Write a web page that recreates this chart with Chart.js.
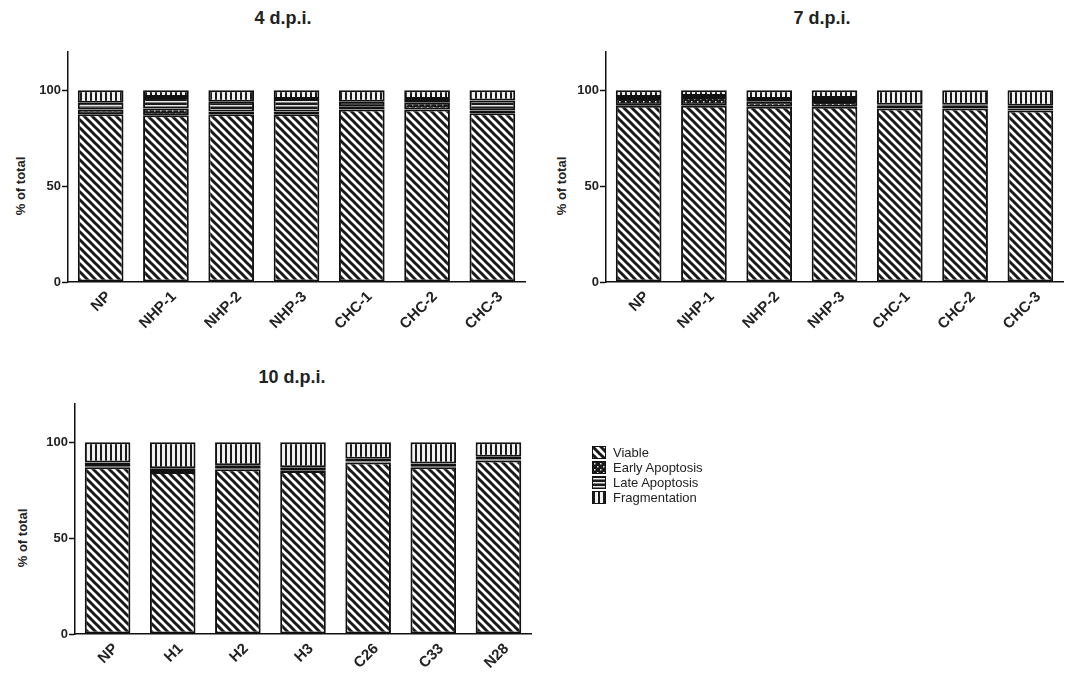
<!DOCTYPE html>
<html>
<head>
<meta charset="utf-8">
<script src="https://cdn.jsdelivr.net/npm/chart.js@4/dist/chart.umd.min.js"></script>
<style>
  body { margin: 0; background: #fff; font-family: "Liberation Sans", Arial, sans-serif; }
  #wrap { position: relative; width: 1069px; height: 673px; overflow: hidden; }
  .box { position: absolute; }
  .title { position: absolute; font-weight: bold; font-size: 18px; color: #222; transform: translate(-50%, -50%); white-space: nowrap; }
  .ylab { position: absolute; font-weight: bold; font-size: 13px; color: #222; transform: translate(-50%, -50%) rotate(-90deg); white-space: nowrap; }
  #legend { position: absolute; left: 592px; top: 445px; font-size: 13px; color: #222; }
  #legend div { height: 15px; display: flex; align-items: center; }
  #legend canvas { border: 1px solid #111; margin-right: 7px; }
</style>
</head>
<body>
<div id="wrap">
  <div class="title" style="left:283px; top:18px">4 d.p.i.</div>
  <div class="title" style="left:822px; top:18px">7 d.p.i.</div>
  <div class="title" style="left:292px; top:377px">10 d.p.i.</div>
  <div class="ylab" style="left:20px; top:186px">% of total</div>
  <div class="ylab" style="left:561px; top:186px">% of total</div>
  <div class="ylab" style="left:22px; top:538px">% of total</div>
  <div class="box" style="left:0; top:40px; width:540px; height:310px"><canvas id="c4"></canvas></div>
  <div class="box" style="left:540px; top:40px; width:529px; height:310px"><canvas id="c7"></canvas></div>
  <div class="box" style="left:0; top:392px; width:545px; height:281px"><canvas id="c10"></canvas></div>
  <div id="legend"></div>
</div>
<script>
// categories
const cats4 = ["NP", "NHP-1", "NHP-2", "NHP-3", "CHC-1", "CHC-2", "CHC-3"];
const cats7 = ["NP", "NHP-1", "NHP-2", "NHP-3", "CHC-1", "CHC-2", "CHC-3"];
const cats10 = ["NP", "H1", "H2", "H3", "C26", "C33", "N28"];
const seriesNames = ["Viable", "Early Apoptosis", "Late Apoptosis", "Fragmentation"];
const yTicks = [0, 50, 100];

// 4 d.p.i.
const viable4 = [87.5, 87, 87.5, 87.5, 90, 90, 88];
const early4 = [2.5, 3.5, 1.5, 1.5, 1.5, 3.5, 1.5];
const late4 = [3.5, 6, 5, 6.5, 2.5, 2, 5.2];
const frag4 = [6.5, 3.5, 6, 4.5, 6, 4.5, 5.3];

// 7 d.p.i.
const viable7 = [92, 92, 91.5, 91.5, 90.5, 90.5, 89.5];
const early7 = [4, 4.5, 2.5, 3, 1.5, 1.5, 1];
const late7 = [0.5, 0.5, 1.5, 1.5, 0.5, 0.5, 1.5];
const frag7 = [3.5, 3, 4.5, 4, 7.5, 7.5, 8];

// 10 d.p.i.
const viable10 = [87, 84.5, 86, 85, 89.5, 87, 90.5];
const early10 = [0.5, 0.5, 0.5, 0.5, 0.5, 0.5, 0.5];
const late10 = [2, 1.5, 1.5, 1.5, 1.5, 1.5, 1.5];
const frag10 = [10.5, 13.5, 12, 13, 8.5, 11, 7.5];

// hatch fills, one per series
function makePattern(kind, ctx) {
  const c = document.createElement("canvas");
  const x = c.getContext("2d");
  if (kind === 0) {
    c.width = c.height = 8;
    x.fillStyle = "#fff";
    x.fillRect(0, 0, 8, 8);
    x.strokeStyle = "#1a1a1a";
    x.lineWidth = 3;
    x.beginPath();
    for (let k = -8; k <= 8; k += 8) {
      x.moveTo(k - 1, -1);
      x.lineTo(k + 9, 9);
    }
    x.stroke();
  } else if (kind === 1) {
    c.width = c.height = 6;
    x.fillStyle = "#1a1a1a";
    x.fillRect(0, 0, 6, 6);
    x.fillStyle = "#ddd";
    x.fillRect(1, 1, 1.5, 1.5);
    x.fillRect(4, 4, 1.5, 1.5);
  } else if (kind === 2) {
    c.width = c.height = 4;
    x.fillStyle = "#1a1a1a";
    x.fillRect(0, 0, 4, 4);
    x.fillStyle = "#e8e8e8";
    x.fillRect(0, 1, 4, 1.5);
  } else {
    c.width = c.height = 5;
    x.fillStyle = "#f2f2f2";
    x.fillRect(0, 0, 5, 5);
    x.fillStyle = "#1a1a1a";
    x.fillRect(0, 0, 2, 5);
  }
  return ctx.createPattern(c, "repeat");
}

const tickFont = { family: "Liberation Sans", size: 13, weight: "bold" };
const catFont = { family: "Liberation Sans", size: 15, weight: "bold" };

function drawPanel(id, cats, series, yWidth, xHeight, pad) {
  const canvas = document.getElementById(id);
  const ctx = canvas.getContext("2d");
  new Chart(ctx, {
    type: "bar",
    data: {
      labels: cats,
      datasets: series.map((vals, i) => ({
        label: seriesNames[i],
        data: vals,
        backgroundColor: makePattern(i, ctx),
        borderColor: "#111",
        borderWidth: 2,
        borderSkipped: false,
        barPercentage: 0.7,
        categoryPercentage: 1.0,
      })),
    },
    options: {
      responsive: true,
      maintainAspectRatio: false,
      animation: false,
      layout: { padding: pad },
      plugins: { legend: { display: false }, tooltip: { enabled: false } },
      scales: {
        x: {
          stacked: true,
          grid: { display: false, drawTicks: false },
          border: { display: true, color: "#111", width: 1.5 },
          ticks: { color: "#222", font: catFont, maxRotation: 45, minRotation: 45, padding: 6, labelOffset: 8 },
          afterFit: (s) => { s.height = xHeight; },
        },
        y: {
          stacked: true,
          min: 0,
          max: 120,
          grid: { drawOnChartArea: false, drawTicks: true, tickLength: 6, tickColor: "#111", tickWidth: 1.5 },
          border: { display: true, color: "#111", width: 1.5 },
          ticks: { color: "#222", font: tickFont, padding: 1 },
          afterBuildTicks: (s) => { s.ticks = yTicks.map((v) => ({ value: v })); },
          afterFit: (s) => { s.width = yWidth; },
        },
      },
    },
  });
}

drawPanel("c4", cats4, [viable4, early4, late4, frag4], 68, 68, { top: 12, right: 15, left: 0, bottom: 0 });
drawPanel("c7", cats7, [viable7, early7, late7, frag7], 66, 68, { top: 12, right: 6, left: 0, bottom: 0 });
drawPanel("c10", cats10, [viable10, early10, late10, frag10], 75, 39, { top: 12, right: 14, left: 0, bottom: 0 });

// legend
const legend = document.getElementById("legend");
seriesNames.forEach((name, i) => {
  const row = document.createElement("div");
  const sw = document.createElement("canvas");
  sw.width = 12;
  sw.height = 11;
  const sctx = sw.getContext("2d");
  sctx.fillStyle = makePattern(i, sctx);
  sctx.fillRect(0, 0, 12, 11);
  row.appendChild(sw);
  row.appendChild(document.createTextNode(name));
  legend.appendChild(row);
});
</script>
</body>
</html>
